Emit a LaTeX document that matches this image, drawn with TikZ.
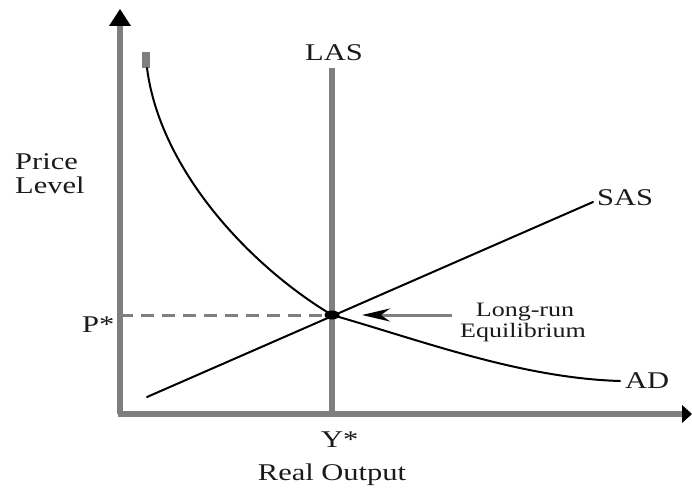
\documentclass[tikz,border=0pt]{standalone}
\usepackage{fontspec}
\setmainfont{Liberation Serif}
\usetikzlibrary{arrows.meta}
\definecolor{axisgray}{HTML}{7F7F7F}
\definecolor{txt}{HTML}{1A1A1A}
\newcommand{\stx}[1]{\scalebox{1.27}[1]{#1}}
\tikzset{
  axisline/.style={axisgray, line width=5.5pt},
  curve/.style={black, line width=2pt, line cap=round},
  biglabel/.style={inner sep=0pt, text=txt, font=\fontsize{24}{28}\selectfont},
  smalllabel/.style={inner sep=0pt, text=txt, font=\fontsize{20.5}{22}\selectfont},
}
\begin{document}
\begin{tikzpicture}[x=1pt,y=-1pt]
\useasboundingbox (0,0) rectangle (692,487);
% coordinates
\coordinate (O) at (120,414);
\coordinate (Ytop) at (120,26);
\coordinate (Xend) at (683,414);
\coordinate (E) at (332,315);
\coordinate (LAStop) at (332,68);
\coordinate (LASbot) at (332,414);
\coordinate (Pax) at (120,315);
\coordinate (SASs) at (147,397);
\coordinate (SASe) at (593,202);
\coordinate (ADs) at (147,68);
\coordinate (ADe) at (620,381);
\coordinate (ArrS) at (452,315);
\coordinate (ArrE) at (362,315);
% axes
\draw[axisline] (O) -- (Ytop);
\draw[axisline] (118,414) -- (Xend);
\fill[black] (120,9) -- (131,26) -- (109,26) -- cycle;
\fill[black] (692,414) -- (682,405) -- (682,423) -- cycle;
% LAS
\draw[axisgray, line width=6.5pt] (LAStop) -- (LASbot);
% dashed P*
\draw[axisgray, line width=3pt, dash pattern=on 13pt off 8pt] (Pax) -- (E);
% SAS
\draw[curve] (SASs) -- (SASe);
% AD
\fill[axisgray] (142,52) rectangle (150,68);
\draw[curve] (ADs) .. controls (160,170) and (250,266) .. (E)
  .. controls (420,340) and (520,378) .. (ADe);
% equilibrium dot
\fill[black] (E) ellipse [x radius=7.5pt, y radius=4.5pt];
% long-run arrow
\draw[axisgray, line width=3pt, -{Stealth[length=28pt,width=13pt,color=black]}] (ArrS) -- (ArrE);
% labels
\node[biglabel, anchor=base west] (las) at (305,60) {\stx{LAS}};
\node[biglabel, anchor=base west] (sas) at (597,205) {\stx{SAS}};
\node[biglabel, anchor=base west] (ad) at (625,388) {\stx{AD}};
\node[biglabel, anchor=base west] (pstar) at (82,332) {\stx{P*}};
\node[biglabel, anchor=base west] (ystar) at (321,447) {\stx{Y*}};
\node[biglabel, anchor=base] (xlab) at (332,480) {\stx{Real Output}};
\node[biglabel, anchor=base west] (price) at (15,169) {\stx{Price}};
\node[biglabel, anchor=base west] (level) at (15,193) {\stx{Level}};
\node[smalllabel, anchor=base] (lr1) at (525,316) {\stx{Long-run}};
\node[smalllabel, anchor=base] (lr2) at (523,337) {\stx{Equilibrium}};
\end{tikzpicture}
\end{document}
